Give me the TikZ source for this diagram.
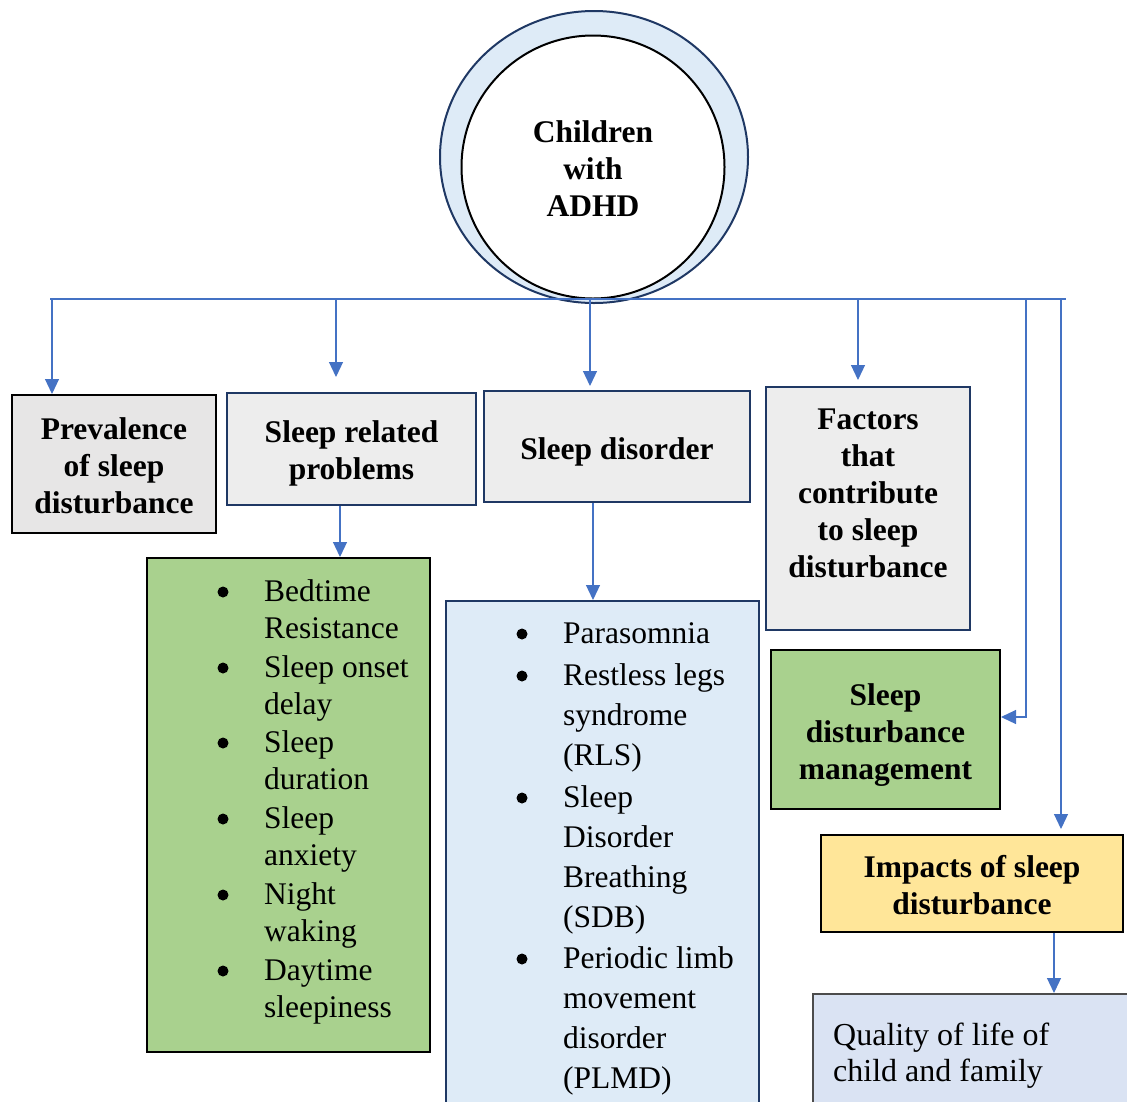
\documentclass[tikz,border=0pt]{standalone}
\usepackage{fontspec}
\setmainfont{Liberation Serif}
\usetikzlibrary{arrows.meta,shapes.geometric,calc}
\definecolor{arrowblue}{HTML}{4472C4}
\definecolor{navy}{HTML}{1F3864}
\definecolor{ringblue}{HTML}{DEEBF7}
\definecolor{greybox}{HTML}{EDEDED}
\definecolor{greyboxb}{HTML}{E7E6E6}
\definecolor{greenbox}{HTML}{A9D18E}
\definecolor{yellowbox}{HTML}{FFE699}
\definecolor{qualbox}{HTML}{DAE3F3}
\newcommand{\lst}[1]{\begin{tabular}[t]{@{}l@{}}#1\end{tabular}}
\begin{document}
\begin{tikzpicture}[x=1pt,y=-1pt,
  box/.style={draw, rectangle, line width=2pt, inner sep=0},
  title/.style={align=center, inner sep=0, font=\fontsize{31.5}{37}\selectfont\bfseries},
  conn/.style={draw=arrowblue, line width=1.2pt, -{Triangle[width=14pt,length=15pt]}},
  busline/.style={draw=arrowblue, line width=1.2pt},
  item/.style={anchor=base west, inner sep=0, font=\fontsize{31.5}{37}\selectfont},
  itemb/.style={anchor=base west, inner sep=0, font=\fontsize{31.5}{40}\selectfont},
  bul/.style={circle, fill=black, minimum size=11, inner sep=0}
]
\useasboundingbox (0,0) rectangle (1127,1101);
\clip (0,0) rectangle (1127,1101);

% central circle
\node[ellipse, draw=navy, fill=ringblue, line width=2pt, minimum width=308, minimum height=292, inner sep=0] (ring) at (594,157) {};
\node[circle, draw=black, fill=white, line width=2pt, minimum size=263, inner sep=0] (adhd) at (593,167) {};
\node[title] (adhdT) at ([yshift=-1.5pt]adhd.center) {Children\\with\\ADHD};

% boxes
\node[box, fill=greyboxb, draw=black, minimum width=204, minimum height=138] (prev) at (114,464) {};
\node[title] (prevT) at ([yshift=-2pt]prev.center) {Prevalence\\of sleep\\disturbance};
\node[box, fill=greybox, draw=navy, minimum width=249, minimum height=112] (rel) at (351.5,449) {};
\node[title] (relT) at ([yshift=-4.5pt]rel.center) {Sleep related\\problems};
\node[box, fill=greybox, draw=navy, minimum width=266, minimum height=111] (dis) at (617,446.5) {};
\node[title] (disT) at ([yshift=-5pt]dis.center) {Sleep disorder};
\node[box, fill=greybox, draw=navy, minimum width=204, minimum height=243] (fac) at (868,508.5) {};
\node[title] (facT) at (868,493) {Factors\\that\\contribute\\to sleep\\disturbance};
\node[box, fill=greenbox, draw=black, minimum width=283, minimum height=494] (glist) at (288.5,805) {};
\node[box, fill=ringblue, draw=navy, minimum width=313, minimum height=519] (blist) at (602.5,860.5) {};
\node[box, fill=greenbox, draw=black, minimum width=229, minimum height=159] (mgmt) at (885.5,729.5) {};
\node[title] (mgmtT) at ([yshift=-5.5pt]mgmt.center) {Sleep\\disturbance\\management};
\node[box, fill=yellowbox, draw=black, minimum width=302, minimum height=97] (imp) at (972,883.5) {};
\node[title] (impT) at ([yshift=-2pt]imp.center) {Impacts of sleep\\disturbance};
\node[box, fill=qualbox, draw=black!70, minimum width=327, minimum height=126] (qual) at (976.5,1057) {};
\node[anchor=base west, inner sep=0, font=\fontsize{32}{36}\selectfont] (qualT) at (833,1045) {\lst{Quality of life of\\child and family}};

% green list
\node[bul] (gb1) at (223,592) {}; \node[item] (g1) at (264,601) {\lst{Bedtime\\Resistance}};
\node[bul] (gb2) at (223,668) {}; \node[item] (g2) at (264,677) {\lst{Sleep onset\\delay}};
\node[bul] (gb3) at (223,743) {}; \node[item] (g3) at (264,752) {\lst{Sleep\\duration}};
\node[bul] (gb4) at (223,819) {}; \node[item] (g4) at (264,828) {\lst{Sleep\\anxiety}};
\node[bul] (gb5) at (223,895) {}; \node[item] (g5) at (264,904) {\lst{Night\\waking}};
\node[bul] (gb6) at (223,971) {}; \node[item] (g6) at (264,980) {\lst{Daytime\\sleepiness}};

% blue list
\node[bul] (db1) at (522,634) {}; \node[itemb] (d1) at (563,643) {\lst{Parasomnia}};
\node[bul] (db2) at (522,676) {}; \node[itemb] (d2) at (563,685) {\lst{Restless legs\\syndrome\\(RLS)}};
\node[bul] (db3) at (522,798) {}; \node[itemb] (d3) at (563,807) {\lst{Sleep\\Disorder\\Breathing\\(SDB)}};
\node[bul] (db4) at (522,959) {}; \node[itemb] (d4) at (563,968) {\lst{Periodic limb\\movement\\disorder\\(PLMD)}};

% bus
\coordinate (busL) at (50,299);
\coordinate (busR) at (1066,299);
\coordinate (b1) at (52,299);
\coordinate (b2) at (336,299);
\coordinate (b3) at (590,299);
\coordinate (b4) at (858,299);
\coordinate (b5) at (1026,299);
\coordinate (b6) at (1061,299);
\draw[busline] (busL) -- (busR);

\draw[conn] (b1) -- (b1 |- prev.north);
\draw[conn, shorten >=15pt] (b2) -- (b2 |- rel.north);
\draw[conn, shorten >=4pt] (b3) -- (b3 |- dis.north);
\draw[conn, shorten >=6pt] (b4) -- (b4 |- fac.north);
\draw[conn] (b5) |- ([yshift=12.5pt]mgmt.east);
\draw[conn, shorten >=5pt] (b6) -- (b6 |- imp.north);

\draw[conn] ([xshift=-11.5pt]rel.south) -- ([xshift=-11.5pt]rel.south |- glist.north);
\draw[conn] ([xshift=-24pt]dis.south) -- ([xshift=-24pt]dis.south |- blist.north);
\draw[conn] ([xshift=82pt]imp.south) -- ([xshift=82pt]imp.south |- qual.north);
\end{tikzpicture}
\end{document}
